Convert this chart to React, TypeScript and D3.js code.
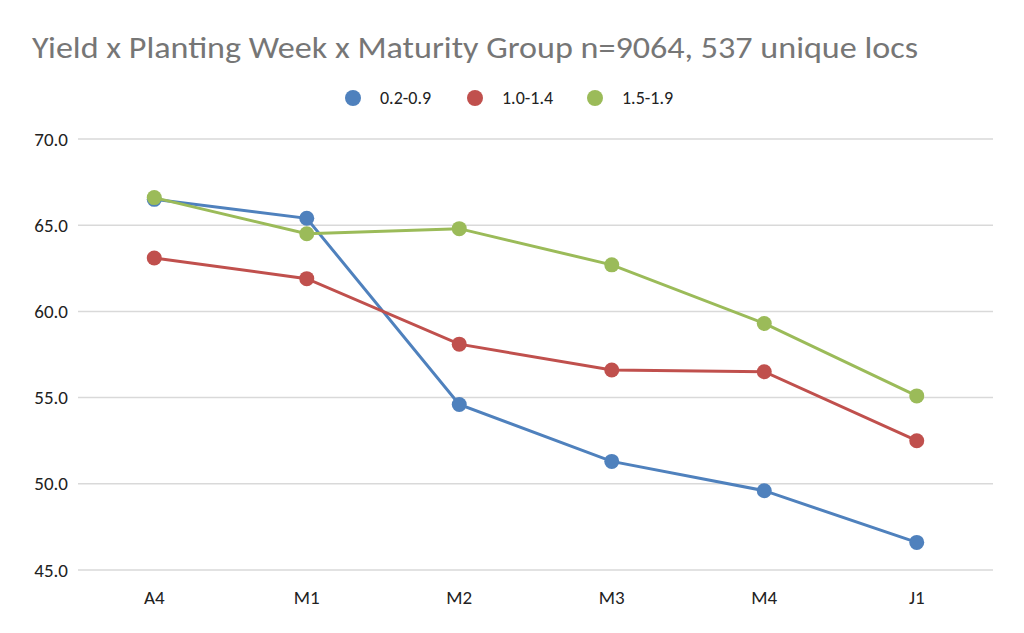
import { scaleLinear, scalePoint, line } from "d3";

const weeks = ["A4", "M1", "M2", "M3", "M4", "J1"];
const seriesNames = ["0.2-0.9", "1.0-1.4", "1.5-1.9"];
const seriesColors = ["#4f81bd", "#c0504d", "#9bbb59"];
const early = [66.5, 65.4, 54.6, 51.3, 49.6, 46.6];
const mid = [63.1, 61.9, 58.1, 56.6, 56.5, 52.5];
const late = [66.6, 64.5, 64.8, 62.7, 59.3, 55.1];
const yTicks = [45, 50, 55, 60, 65, 70];

const W = 1024;
const H = 633;
const left = 78;
const right = 993;
const top = 139;
const bottom = 570;
const font = "Carlito, 'Liberation Sans Narrow', 'Open Sans', sans-serif";

export default function App() {
  const x = scalePoint<string>().domain(weeks).range([left, right]).padding(0.5);
  const y = scaleLinear().domain([45, 70]).range([bottom, top]);
  const all = [early, mid, late];
  const lineFn = line<number>()
    .x((_, i) => x(weeks[i]) ?? 0)
    .y((d) => y(d));

  const legendX = [353, 475, 595];

  return (
    <svg
      width={W}
      height={H}
      style={{ position: "absolute", left: 0, top: 0, background: "#fff" }}
    >
      <text
        x={32}
        y={58}
        fontFamily={font}
        fontSize={30}
        fill="#767676"
        textLength={886}
        lengthAdjust="spacingAndGlyphs"
      >
        Yield x Planting Week x Maturity Group n=9064, 537 unique locs
      </text>

      {seriesNames.map((name, i) => (
        <g key={name}>
          <circle cx={legendX[i]} cy={98} r={8} fill={seriesColors[i]} />
          <text x={legendX[i] + 27} y={104} fontFamily={font} fontSize={18} fill="#222">
            {name}
          </text>
        </g>
      ))}

      {yTicks.map((t) => (
        <g key={t}>
          <line x1={left} x2={right} y1={y(t)} y2={y(t)} stroke="#d9d9d9" strokeWidth={1.5} />
          <text
            x={68}
            y={y(t) + 6.5}
            textAnchor="end"
            fontFamily={font}
            fontSize={19}
            fill="#222"
          >
            {t.toFixed(1)}
          </text>
        </g>
      ))}

      {weeks.map((w) => (
        <text
          key={w}
          x={x(w)}
          y={604}
          textAnchor="middle"
          fontFamily={font}
          fontSize={19}
          fill="#222"
        >
          {w}
        </text>
      ))}

      {all.map((vals, i) => (
        <g key={seriesNames[i]}>
          <path d={lineFn(vals) ?? ""} fill="none" stroke={seriesColors[i]} strokeWidth={3} />
          {vals.map((v, j) => (
            <circle key={j} cx={x(weeks[j])} cy={y(v)} r={7.5} fill={seriesColors[i]} />
          ))}
        </g>
      ))}
    </svg>
  );
}
